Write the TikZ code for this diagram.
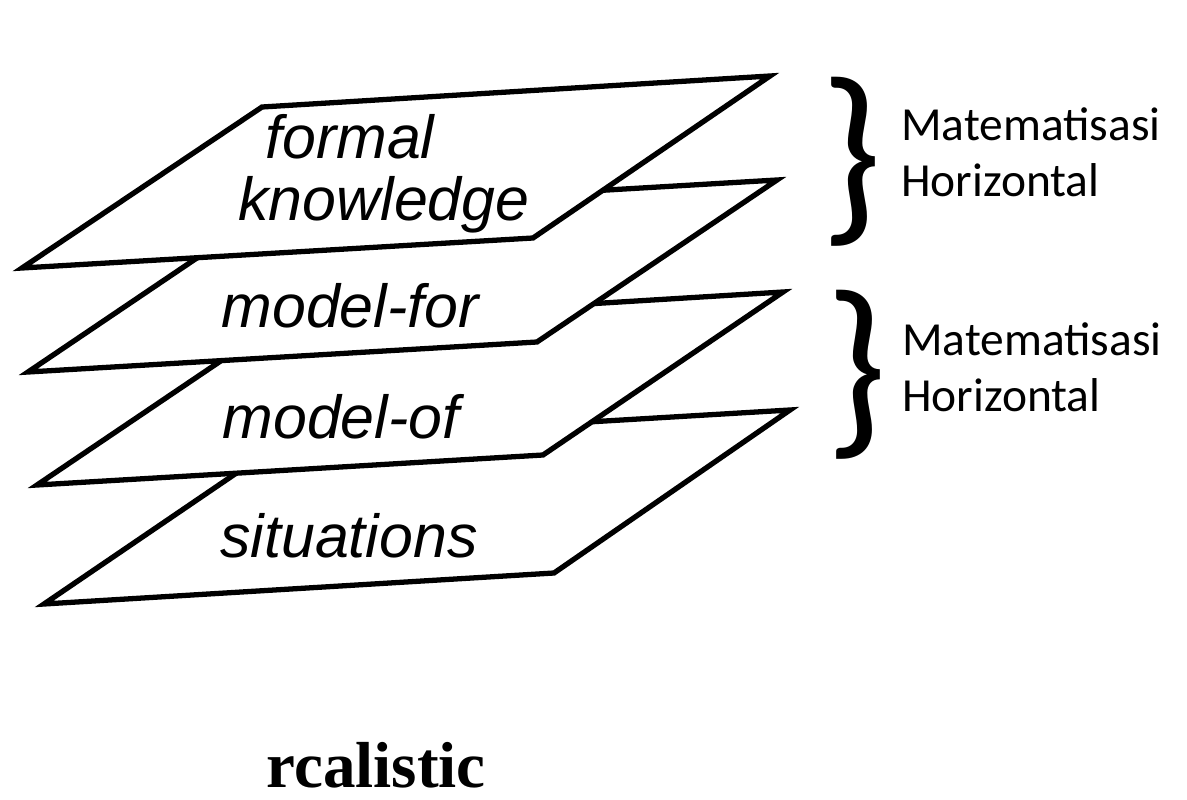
\documentclass[tikz,border=0pt]{standalone}
\usepackage{fontspec}
\setmainfont{Liberation Serif}
\newfontfamily\planefont{Liberation Sans}
\newfontfamily\notefont{Carlito}
\usetikzlibrary{positioning}
\tikzset{
  plane/.style={draw=black,fill=white,line width=1.5pt,line join=miter},
  planelabel/.style={font=\planefont\itshape\fontsize{17.3}{20}\selectfont,
                     inner sep=0pt,anchor=base},
  bracesym/.style={font=\notefont\fontsize{56}{56}\selectfont,inner sep=0pt},
  bracenote/.style={font=\notefont\fontsize{13.5}{15.9}\selectfont,
                    align=left,inner sep=0pt},
  basetext/.style={font=\bfseries\fontsize{18.5}{22}\selectfont,
                   inner sep=0pt,anchor=base}
}
\begin{document}
\begin{tikzpicture}[x=0.01cm,y=-0.01cm]
  \useasboundingbox (0,0) rectangle (1187,800);

  % Planes, bottom one first so the upper ones hide it
  \draw[plane] (44,604) -- (554,573) -- (790,410) -- (285,440) -- cycle;
  \draw[plane] (37,485) -- (543,455) -- (783,292) -- (277,323) -- cycle;
  \draw[plane] (28,372) -- (537,342) -- (777,180) -- (268,210) -- cycle;
  \draw[plane] (22,268) -- (533,238) -- (770,76) -- (262,107) -- cycle;

  % Labels on the planes
  \node[planelabel] (situations) at (349,557) {situations};
  \node[planelabel] (modelof) at (341,438) {model-of};
  \node[planelabel] (modelfor) at (350,327) {model-for};
  \node[planelabel] (knowledge) at (384,220) {knowledge};
  \node[planelabel] (formal) at (350,158) {formal};

  % Braces with notes
  \node[bracesym] (braceA) at (851,162) {\}};
  \node[bracenote,right=0.18cm of braceA,yshift=0.1cm] (noteA) {Matematisasi\\Horizontal};
  \node[bracesym] (braceB) at (856,375) {\}};
  \node[bracenote,right=0.14cm of braceB,yshift=0.08cm] (noteB) {Matematisasi\\Horizontal};

  % Caption below the stack
  \node[basetext] (realistic) at (376,787) {rcalistic};
\end{tikzpicture}
\end{document}
